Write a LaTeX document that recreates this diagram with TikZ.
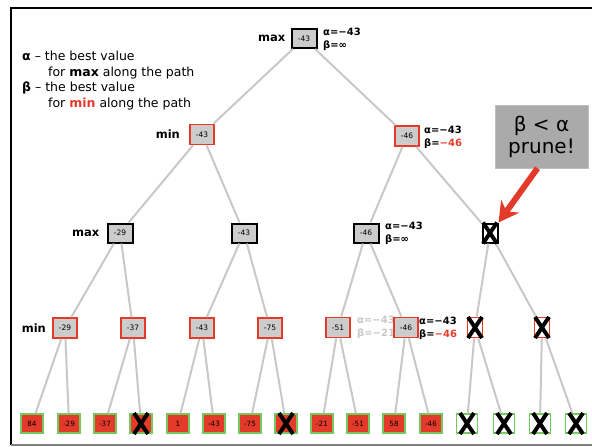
\documentclass[tikz,border=0pt]{standalone}
\usepackage{fontspec}
\setmainfont{DejaVu Sans}
\usetikzlibrary{arrows.meta,positioning}

\definecolor{boxgray}{RGB}{204,204,204}
\definecolor{edgegray}{RGB}{200,200,200}
\definecolor{minred}{RGB}{228,58,42}
\definecolor{leafgreen}{RGB}{115,200,95}
\definecolor{notegray}{RGB}{170,170,170}
\definecolor{fadegray}{RGB}{200,200,200}

\tikzset{
  maxbox/.style={draw=black,line width=2pt,fill=boxgray,minimum width=25pt,minimum height=19pt,inner sep=0pt,font=\fontsize{7.5}{8}\selectfont},
  minbox/.style={maxbox,draw=minred,line width=1.8pt,minimum width=24pt,minimum height=20pt},
  leaf/.style={draw=leafgreen,line width=1.6pt,fill=minred,minimum width=22pt,minimum height=19pt,inner sep=0pt,font=\fontsize{7.2}{8}\selectfont},
  cutbox/.style={fill=white,minimum width=15pt},
  leafcut/.style={fill=white,minimum width=21pt},
  edge/.style={draw=edgegray,line width=2pt},
  level/.style={font=\bfseries\fontsize{11.5}{13}\selectfont,inner sep=0pt},
  ab/.style={font=\bfseries\fontsize{10}{13}\selectfont,align=left,inner sep=0pt,anchor=west},
  legend/.style={font=\fontsize{12.5}{15.6}\selectfont,align=left,inner sep=0pt,anchor=west},
  note/.style={fill=notegray,draw=gray!50,line width=.4pt,minimum width=93pt,minimum height=63pt,align=center,font=\fontsize{20}{22}\selectfont},
  xmark/.style={line width=4pt,black}
}
\newcommand\prunex[1]{%
  \draw[xmark] ([shift={(-7,-10.5)}]#1.center) -- ([shift={(7,10.5)}]#1.center)
               ([shift={(-7,10.5)}]#1.center) -- ([shift={(7,-10.5)}]#1.center);}

\begin{document}
\begin{tikzpicture}[x=1pt,y=-1pt]%
\useasboundingbox (0,0) rectangle (592,447);
% frame
\draw[line width=2.7pt] (592,8) -- (11,8) -- (11,445);
\draw[gray,line width=2pt] (11,445) -- (592,445);
% legend
\node[legend] (key) at (22,80.5) {\textbf{α} – the best value\\
  \hspace*{26pt}for \textbf{max} along the path\\
  \textbf{β} – the best value\\
  \hspace*{26pt}for \textcolor{minred}{\textbf{min}} along the path};
\node[ab,text=fadegray] (ab5) at (357,327.5) {α=−43\\β=−21}; %% behind u6
% tree
\node[maxbox] (r0) at (304,38.5) {-43}; %%
\node[minbox] (s1) at (202,134.5) {-43}; %%
\node[minbox] (s2) at (407,136) {-46}; %%
\node[maxbox] (t1) at (120,233) {-29}; %%
\node[maxbox] (t2) at (244,233) {-43}; %%
\node[maxbox] (t3) at (366,233) {-46}; %%
\node[maxbox,cutbox] (t4) at (490,233) {}; %%
\node[minbox] (u1) at (65,328) {-29}; %%
\node[minbox] (u2) at (133,328) {-37}; %%
\node[minbox] (u3) at (202,328) {-43}; %%
\node[minbox] (u4) at (270,328) {-75}; %%
\node[minbox] (u5) at (338,327.5) {-51}; %%
\node[minbox] (u6) at (406,327.5) {-46}; %%
\node[minbox,cutbox] (u7) at (475,327.5) {}; %%
\node[minbox,cutbox] (u8) at (542,327.5) {}; %%
\node[leaf] (v1) at (32,423.5) {84}; %%
\node[leaf] (v2) at (69,423.5) {-29}; %%
\node[leaf] (v3) at (105,423.5) {-37}; %%
\node[leaf] (v4) at (141,423.5) {}; %%
\node[leaf] (v5) at (178,423.5) {1}; %%
\node[leaf] (v6) at (214,423.5) {-43}; %%
\node[leaf] (v7) at (250,423.5) {-75}; %%
\node[leaf] (v8) at (286,423.5) {}; %%
\node[leaf] (v9) at (322,423.5) {-21}; %%
\node[leaf] (v10) at (358,423.5) {-51}; %%
\node[leaf] (v11) at (394,423.5) {58}; %%
\node[leaf] (v12) at (431,423.5) {-46}; %%
\node[leaf,leafcut] (v13) at (467,423.5) {}; %%
\node[leaf,leafcut] (v14) at (504,423.5) {}; %%
\node[leaf,leafcut] (v15) at (540,423.5) {}; %%
\node[leaf,leafcut] (v16) at (576,423.5) {}; %%
% edges
\draw[edge] (r0)--(s1); %%
\draw[edge] (r0)--(s2); %%
\draw[edge] (s1)--(t1); %%
\draw[edge] (s1)--(t2); %%
\draw[edge] (s2)--(t3); %%
\draw[edge] (s2)--(t4); %%
\draw[edge] (t1)--(u1); %%
\draw[edge] (t1)--(u2); %%
\draw[edge] (t2)--(u3); %%
\draw[edge] (t2)--(u4); %%
\draw[edge] (t3)--(u5); %%
\draw[edge] (t3)--(u6); %%
\draw[edge] (t4)--(u7); %%
\draw[edge] (t4)--(u8); %%
\draw[edge] (u1)--(v1); %%
\draw[edge] (u1)--(v2); %%
\draw[edge] (u2)--(v3); %%
\draw[edge] (u2)--(v4); %%
\draw[edge] (u3)--(v5); %%
\draw[edge] (u3)--(v6); %%
\draw[edge] (u4)--(v7); %%
\draw[edge] (u4)--(v8); %%
\draw[edge] (u5)--(v9); %%
\draw[edge] (u5)--(v10); %%
\draw[edge] (u6)--(v11); %%
\draw[edge] (u6)--(v12); %%
\draw[edge] (u7)--(v13); %%
\draw[edge] (u7)--(v14); %%
\draw[edge] (u8)--(v15); %%
\draw[edge] (u8)--(v16); %%
% level names
\node[level,left=5pt of r0] (lv0) {max}; %%
\node[level,left=9pt of s1] (lv1) {min}; %%
\node[level,left=7pt of t1] (lv2) {max}; %%
\node[level,left=6pt of u1] (lv3) {min}; %%
% alpha beta
\node[ab] (ab0) at (323,39.5) {α=−43\\β=∞}; %%
\node[ab] (ab1) at (424,137) {α=−43\\β=\textcolor{minred}{−46}}; %%
\node[ab] (ab2) at (385,233.5) {α=−43\\β=∞}; %%
\node[ab] (ab3) at (419,328.5) {α=−43\\β=\textcolor{minred}{−46}}; %%
% pruning
\prunex{t4} \prunex{u7} \prunex{u8}
\prunex{v4} \prunex{v8}
\prunex{v13} \prunex{v14} \prunex{v15} \prunex{v16}
\node[note] (cut) at (541.5,136.5) {β < α\\prune!}; %%
\draw[minred,line width=6pt,-{Stealth[length=20pt,width=22pt]}] ([xshift=-4pt]cut.south) -- (t4.north east); %%
\end{tikzpicture}
\end{document}
